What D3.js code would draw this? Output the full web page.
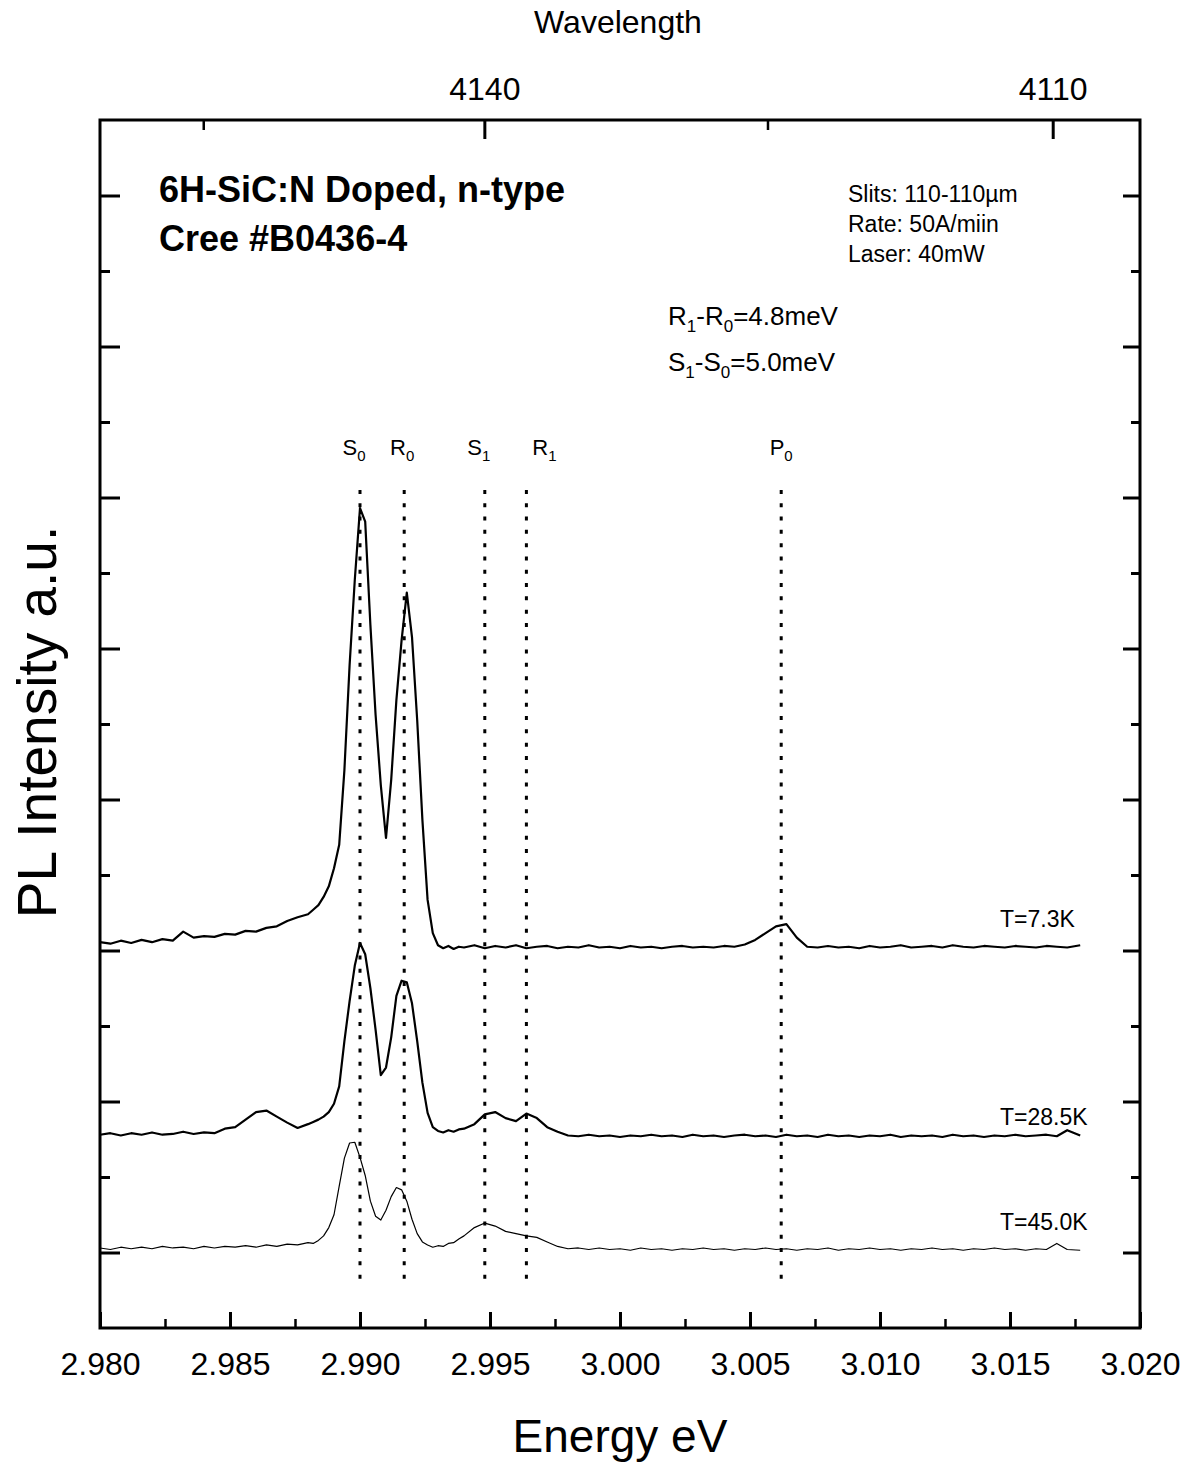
<!DOCTYPE html>
<html>
<head>
<meta charset="utf-8">
<script src="https://cdnjs.cloudflare.com/ajax/libs/d3/7.8.5/d3.min.js"></script>
<style>
body { margin: 0; background: #fff; }
svg text { font-family: "Liberation Sans", Arial, Helvetica, sans-serif; fill: #000; }
</style>
</head>
<body>
<svg id="chart" width="1191" height="1462"></svg>
<script>
// PL spectra of 6H-SiC:N at three temperatures
//
var energy = [
	2.9800,2.9804,2.9808,2.9812,2.9816,2.9820,2.9824,2.9828,2.9832,2.9836,
	2.9840,2.9844,2.9848,2.9852,2.9856,2.9860,2.9864,2.9868,2.9872,2.9876,
	2.9880,2.9882,2.9884,2.9886,2.9888,2.9890,2.9892,2.9894,2.9896,2.9898,
	2.9900,2.9902,2.9904,2.9906,2.9908,2.9910,2.9912,2.9914,2.9916,2.9918,
	2.9920,2.9922,2.9924,2.9926,2.9928,2.9930,2.9932,2.9934,2.9936,2.9938,
	2.9940,2.9944,2.9948,2.9952,2.9956,2.9960,2.9964,2.9968,2.9972,2.9976,
	2.9980,2.9984,2.9988,2.9992,2.9996,3.0000,3.0004,3.0008,3.0012,3.0016,
	3.0020,3.0024,3.0028,3.0032,3.0036,3.0040,3.0044,3.0048,3.0052,3.0056,
	3.0060,3.0064,3.0068,3.0072,3.0076,3.0080,3.0084,3.0088,3.0092,3.0096,
	3.0100,3.0104,3.0108,3.0112,3.0116,3.0120,3.0124,3.0128,3.0132,3.0136,
	3.0140,3.0144,3.0148,3.0152,3.0156,3.0160,3.0164,3.0168,3.0172,3.0177
];
var intensity7K = [
	5.11,5.09,5.13,5.10,5.14,5.11,5.15,5.13,5.25,5.17,
	5.19,5.18,5.22,5.21,5.26,5.25,5.30,5.32,5.39,5.44,
	5.48,5.54,5.60,5.71,5.85,6.09,6.40,7.39,8.78,9.91,
	10.86,10.68,9.31,8.12,7.19,6.49,7.26,8.32,9.11,9.74,
	9.15,8.05,6.73,5.67,5.23,5.07,5.03,5.06,5.02,5.05,
	5.04,5.07,5.03,5.06,5.04,5.07,5.03,5.05,5.06,5.03,
	5.05,5.04,5.07,5.04,5.05,5.03,5.06,5.04,5.05,5.03,
	5.05,5.06,5.04,5.05,5.04,5.06,5.05,5.08,5.14,5.23,
	5.32,5.35,5.17,5.05,5.04,5.06,5.04,5.05,5.03,5.06,
	5.04,5.05,5.07,5.04,5.05,5.06,5.04,5.07,5.05,5.04,
	5.06,5.05,5.04,5.06,5.05,5.04,5.06,5.05,5.04,5.07
];
var intensity28K = [
	2.56,2.58,2.55,2.58,2.56,2.59,2.56,2.57,2.60,2.57,
	2.59,2.58,2.64,2.66,2.76,2.86,2.88,2.80,2.72,2.65,
	2.70,2.73,2.76,2.80,2.86,2.97,3.20,3.80,4.33,4.80,
	5.10,4.95,4.50,3.95,3.35,3.45,3.85,4.40,4.60,4.58,
	4.30,3.80,3.25,2.85,2.66,2.61,2.59,2.62,2.60,2.63,
	2.64,2.70,2.83,2.86,2.78,2.74,2.84,2.78,2.66,2.60,
	2.55,2.54,2.56,2.54,2.55,2.53,2.55,2.54,2.56,2.54,
	2.55,2.53,2.56,2.54,2.55,2.53,2.55,2.56,2.54,2.55,
	2.53,2.56,2.54,2.55,2.53,2.56,2.54,2.55,2.53,2.55,
	2.54,2.56,2.53,2.55,2.54,2.55,2.53,2.56,2.54,2.55,
	2.53,2.55,2.54,2.56,2.54,2.55,2.56,2.54,2.62,2.55
];
var intensity45K = [
	1.06,1.04,1.07,1.05,1.07,1.05,1.08,1.06,1.07,1.05,
	1.08,1.06,1.08,1.07,1.09,1.07,1.10,1.08,1.11,1.10,
	1.13,1.12,1.16,1.22,1.33,1.50,1.88,2.25,2.45,2.46,
	2.26,2.02,1.68,1.48,1.43,1.56,1.74,1.86,1.83,1.68,
	1.44,1.25,1.14,1.10,1.07,1.09,1.08,1.12,1.13,1.18,
	1.22,1.33,1.39,1.35,1.28,1.25,1.22,1.20,1.14,1.08,
	1.05,1.06,1.04,1.06,1.04,1.05,1.03,1.06,1.04,1.05,
	1.03,1.05,1.04,1.06,1.04,1.05,1.03,1.05,1.04,1.06,
	1.04,1.05,1.03,1.05,1.04,1.06,1.03,1.05,1.04,1.06,
	1.04,1.05,1.03,1.05,1.04,1.06,1.04,1.05,1.03,1.05,
	1.04,1.06,1.04,1.05,1.03,1.05,1.04,1.12,1.04,1.03
];
var temperatures = ['T=7.3K', 'T=28.5K', 'T=45.0K'];

// axes
var energyTicks = [2.980, 2.985, 2.990, 2.995, 3.000, 3.005, 3.010, 3.015, 3.020];
var energyMinor = [2.9825, 2.9875, 2.9925, 2.9975, 3.0025, 3.0075, 3.0125, 3.0175];
var wavelengthTicks = [4140, 4110];
var wavelengthMinor = [4155, 4125];
var intensityMajor = [1, 3, 5, 7, 9, 11, 13, 15];
var intensityMinor = [2, 4, 6, 8, 10, 12, 14];

// marked lines
var lineNames = ['S', 'R', 'S', 'R', 'P'];
var lineIndex = ['0', '0', '1', '1', '0'];
var lineEnergy = [2.9900, 2.9917, 2.9948, 2.9964, 3.0062];

var svg = d3.select('#chart');
var plotLeft = 100, plotRight = 1140, plotTop = 120, plotBottom = 1328;

var x = d3.scaleLinear().domain([2.980, 3.020]).range([plotLeft, plotRight]);
var y = d3.scaleLinear().domain([0, 16]).range([plotBottom, plotTop]);
var toEnergy = function(l) { return 12398.4 / l; };

var styleTicks = function(g, w) {
	g.select('.domain').remove();
	g.selectAll('.tick line').attr('stroke', '#000').attr('stroke-width', w);
	g.selectAll('.tick text').style('font-size', '32px');
	return g;
};

// bottom axis (energy)
svg.append('g').attr('transform', 'translate(0,' + plotBottom + ')')
	.call(d3.axisBottom(x).tickValues(energyTicks).tickSize(-16).tickPadding(24).tickFormat(d3.format('.3f')))
	.call(styleTicks, 3);
svg.append('g').attr('transform', 'translate(0,' + plotBottom + ')')
	.call(d3.axisBottom(x).tickValues(energyMinor).tickSize(-9).tickFormat(''))
	.call(styleTicks, 2.5);

// top axis (wavelength, Angstrom)
svg.append('g').attr('transform', 'translate(0,' + plotTop + ')')
	.call(d3.axisTop(x).tickValues(wavelengthTicks.map(toEnergy)).tickSize(-19).tickPadding(20)
		.tickFormat(function(d, i) { return wavelengthTicks[i]; }))
	.call(styleTicks, 3);
svg.append('g').attr('transform', 'translate(0,' + plotTop + ')')
	.call(d3.axisTop(x).tickValues(wavelengthMinor.map(toEnergy)).tickSize(-10).tickFormat(''))
	.call(styleTicks, 2.5);

// left / right axes, no labels
svg.append('g').attr('transform', 'translate(' + plotLeft + ',0)')
	.call(d3.axisLeft(y).tickValues(intensityMajor).tickSize(-20).tickFormat(''))
	.call(styleTicks, 3);
svg.append('g').attr('transform', 'translate(' + plotLeft + ',0)')
	.call(d3.axisLeft(y).tickValues(intensityMinor).tickSize(-10).tickFormat(''))
	.call(styleTicks, 3);
svg.append('g').attr('transform', 'translate(' + plotRight + ',0)')
	.call(d3.axisRight(y).tickValues(intensityMajor).tickSize(-17).tickFormat(''))
	.call(styleTicks, 3);
svg.append('g').attr('transform', 'translate(' + plotRight + ',0)')
	.call(d3.axisRight(y).tickValues(intensityMinor).tickSize(-9).tickFormat(''))
	.call(styleTicks, 3);

// frame
svg.append('rect')
	.attr('x', plotLeft).attr('y', plotTop)
	.attr('width', plotRight - plotLeft).attr('height', plotBottom - plotTop)
	.attr('fill', 'none').attr('stroke', '#000').attr('stroke-width', 3);

// dotted marker lines
svg.selectAll('line.marker').data(lineEnergy)
	.enter()
	.append('line')
	.attr('class', 'marker')
	.attr('x1', function(d) { return x(d) })
	.attr('x2', function(d) { return x(d) })
	.attr('y1', y(11.1))
	.attr('y2', y(0.6))
	.attr('stroke', '#000')
	.attr('stroke-width', 3)
	.attr('stroke-dasharray', '4,9.3');

// labels above the marker lines
var labelShift = [-6, -2, -6, 18, 0];
var markerLabels = svg.selectAll('text.marker').data(lineEnergy)
	.enter()
	.append('text')
	.attr('class', 'marker')
	.attr('x', function(d, i) { return x(d) + labelShift[i] })
	.attr('y', 455)
	.attr('text-anchor', 'middle')
	.style('font-size', '22px');
markerLabels.append('tspan').text(function(d, i) { return lineNames[i] });
markerLabels.append('tspan').attr('dy', 6).style('font-size', '15px').text(function(d, i) { return lineIndex[i] });

// spectra
var line = d3.line()
	.x(function(d) { return x(d[0]) })
	.y(function(d) { return y(d[1]) });
var spectra = [
	{ values: d3.zip(energy, intensity7K), width: 2.2 },
	{ values: d3.zip(energy, intensity28K), width: 2.2 },
	{ values: d3.zip(energy, intensity45K), width: 1.2 }
];
svg.selectAll('path.spectrum').data(spectra)
	.enter()
	.append('path')
	.attr('class', 'spectrum')
	.attr('d', function(d) { return line(d.values) })
	.attr('fill', 'none')
	.attr('stroke', '#000')
	.attr('stroke-width', function(d) { return d.width })
	.attr('stroke-linejoin', 'round');

// temperature labels
var tempY = [927, 1125, 1230];
svg.selectAll('text.temp').data(temperatures)
	.enter()
	.append('text')
	.attr('class', 'temp')
	.attr('x', 1000)
	.attr('y', function(d, i) { return tempY[i] })
	.style('font-size', '23px')
	.text(function(d) { return d });

// sample notes
var note = function(txt, xx, yy, size, weight) {
	return svg.append('text').attr('x', xx).attr('y', yy)
		.style('font-size', size + 'px').style('font-weight', weight || 'normal')
		.text(txt);
};
note('6H-SiC:N Doped, n-type', 159, 202, 36, 'bold');
note('Cree #B0436-4', 159, 251, 36, 'bold');
note('Slits: 110-110\u00b5m', 848, 202, 23);
note('Rate: 50A/miin', 848, 232, 23);
note('Laser: 40mW', 848, 262, 23);

// splittings with subscripts
var subNote = function(parts, xx, yy) {
	var t = svg.append('text').attr('x', xx).attr('y', yy).style('font-size', '26px');
	var shift = 0;
	parts.forEach(function(p) {
		var dy = p[1] ? 7 - shift : -shift;
		shift = p[1] ? 7 : 0;
		t.append('tspan').attr('dy', dy).style('font-size', p[1] ? '17px' : '26px').text(p[0]);
	});
};
subNote([['R', 0], ['1', 1], ['-R', 0], ['0', 1], ['=4.8meV', 0]], 668, 325);
subNote([['S', 0], ['1', 1], ['-S', 0], ['0', 1], ['=5.0meV', 0]], 668, 371);

// axis titles
svg.append('text').attr('x', 618).attr('y', 33).attr('text-anchor', 'middle')
	.style('font-size', '32px').text('Wavelength');
svg.append('text').attr('x', 620).attr('y', 1452).attr('text-anchor', 'middle')
	.style('font-size', '46px').text('Energy eV');
svg.append('text').attr('transform', 'translate(56,722) rotate(-90)').attr('text-anchor', 'middle')
	.style('font-size', '55px').text('PL Intensity a.u.');
</script>
</body>
</html>
